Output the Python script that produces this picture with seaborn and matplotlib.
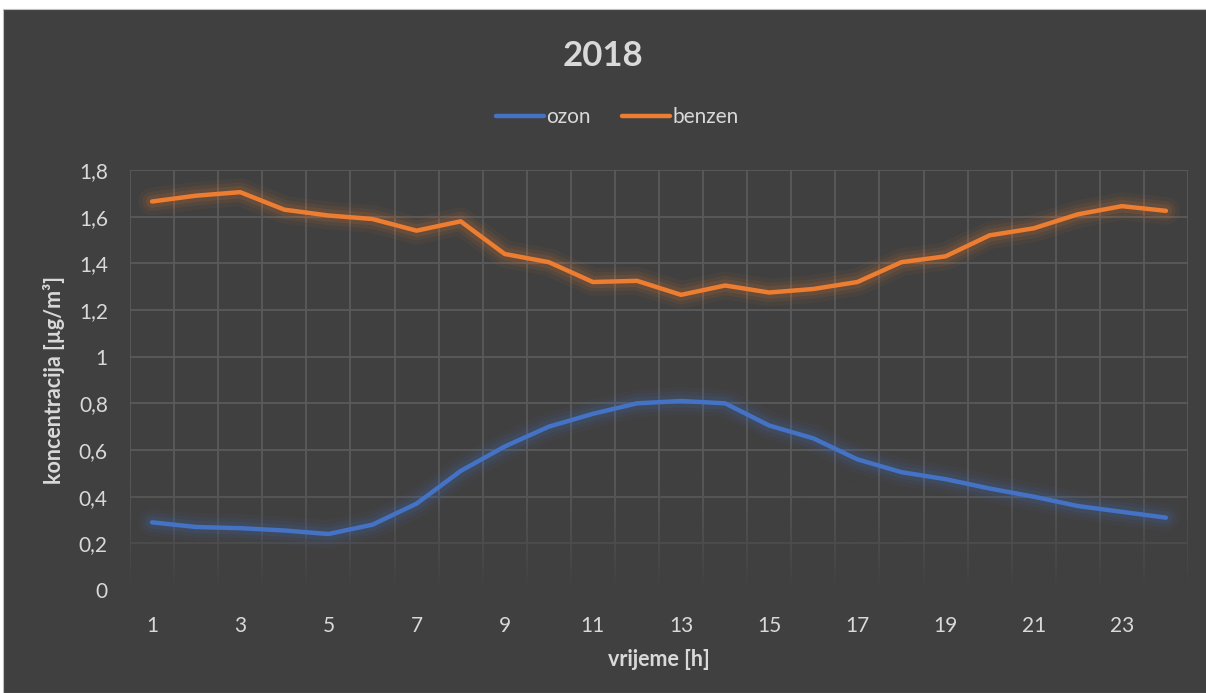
import numpy as np
import pandas as pd
import matplotlib
matplotlib.use("Agg")
import matplotlib.pyplot as plt
import matplotlib.patheffects as pe
import seaborn as sns

# hourly mean concentrations, 2018
hours = list(range(1, 25))
ozon = [0.29, 0.27, 0.265, 0.255, 0.24, 0.28, 0.37, 0.51, 0.615, 0.70, 0.755, 0.80,
        0.81, 0.80, 0.705, 0.65, 0.56, 0.505, 0.475, 0.435, 0.40, 0.36, 0.335, 0.31]
benzen = [1.665, 1.69, 1.705, 1.63, 1.605, 1.59, 1.54, 1.58, 1.44, 1.405, 1.32, 1.325,
          1.265, 1.305, 1.275, 1.29, 1.32, 1.405, 1.43, 1.52, 1.55, 1.61, 1.645, 1.625]
series_names = ["ozon", "benzen"]
colors = ["#4472C4", "#ED7D31"]
y_ticks = [0, 0.2, 0.4, 0.6, 0.8, 1, 1.2, 1.4, 1.6, 1.8]
x_ticks = list(range(1, 24, 2))

df = pd.DataFrame({"vrijeme": hours * 2,
                   "konc": ozon + benzen,
                   "serija": ["ozon"] * 24 + ["benzen"] * 24})

bg = "#404040"
txt = "#D9D9D9"
grid = "#5A5A5A"

sns.set_style("dark")
plt.rcParams["font.family"] = ["Lato", "DejaVu Sans"]

fig = plt.figure(figsize=(12.06, 6.93), dpi=100, facecolor="white")
# chart area with thin white margin on top/left
fig.patches.append(plt.Rectangle((3 / 1206, 0), 1, 684 / 693, transform=fig.transFigure,
                                 facecolor=bg, edgecolor="#BFBFBF", lw=0.8, zorder=-5))
ax = fig.add_axes([130 / 1206, 1 - 590 / 693, 1058 / 1206, 420 / 693])
ax.set_zorder(2)
ax.set_facecolor(bg)

sns.lineplot(data=df, x="vrijeme", y="konc", hue="serija", hue_order=series_names,
             palette=colors, linewidth=3.2, ax=ax, zorder=4, legend=True)

# soft glow around the lines
for line, c in zip(ax.lines, colors):
    line.set_solid_capstyle("round")
    line.set_path_effects([pe.Stroke(linewidth=20, foreground=c, alpha=0.05),
                           pe.Stroke(linewidth=14, foreground=c, alpha=0.08),
                           pe.Stroke(linewidth=9, foreground=c, alpha=0.12),
                           pe.Normal()])

ax.set_xticks(x_ticks)
ax.set_xticks(np.arange(0.5, 25, 1), minor=True)
ax.set_yticks(y_ticks)
ax.set_yticklabels([("%g" % v).replace(".", ",") for v in y_ticks])
ax.grid(False)
ax.grid(True, which="minor", axis="x", color=grid, lw=1.3)
ax.grid(True, which="major", axis="y", color=grid, lw=1.3)

# grid fades out towards the bottom
grad = np.zeros((100, 1, 4))
r, g, b = matplotlib.colors.to_rgb(bg)
grad[..., 0], grad[..., 1], grad[..., 2] = r, g, b
grad[:, 0, 3] = np.linspace(1, 0, 100) ** 1.3
ax.imshow(grad, extent=(0.5, 24.5, 0, 0.5), aspect="auto", origin="lower", zorder=1.5)
ax.set_xlim(0.5, 24.5)
ax.set_ylim(0, 1.8)

for s in ax.spines.values():
    s.set_visible(False)
ax.tick_params(axis="both", which="both", length=0, colors=txt, labelsize=15)
ax.tick_params(axis="x", pad=19)
ax.tick_params(axis="y", pad=16)

ax.set_xlabel("vrijeme [h]", color=txt, fontsize=15.5, fontweight="bold", labelpad=9)
ax.set_ylabel("koncentracija [µg/m³]", color=txt, fontsize=15.5, fontweight="bold", labelpad=10)

fig.text(0.5, 1 - 56 / 693, "2018", ha="center", va="center", color=txt,
         fontsize=25, fontweight="bold")

handles, labels = ax.get_legend_handles_labels()
leg = ax.legend(handles, labels, loc="center", bbox_to_anchor=(0.512, 1 - 117 / 693),
                bbox_transform=fig.transFigure, ncol=2, frameon=False, fontsize=15,
                handlelength=2.3, handletextpad=0.1, columnspacing=1.5)
for t in leg.get_texts():
    t.set_color(txt)
for h in leg.get_lines():
    h.set_path_effects([])
    h.set_linewidth(3.2)

fig.savefig("out.png", dpi=100, facecolor=fig.get_facecolor())
